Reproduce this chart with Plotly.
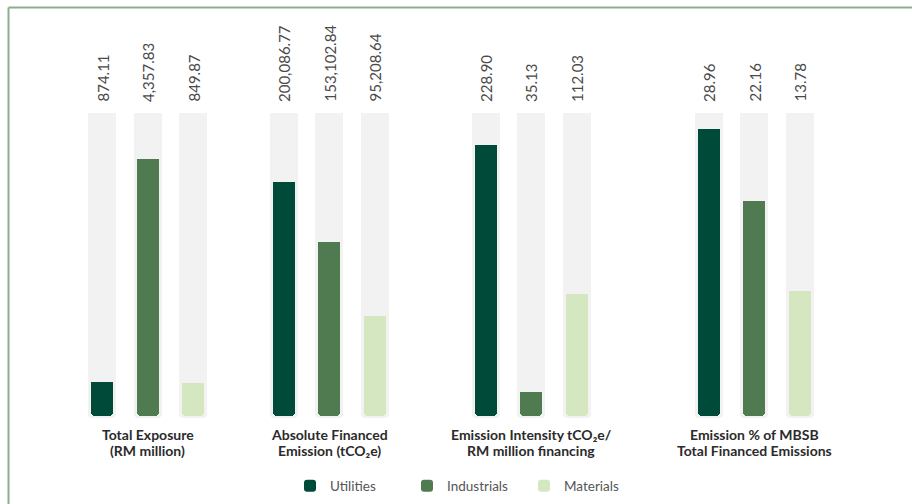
import plotly.graph_objects as go

# ---------------- data ----------------
categories = [
    "Total Exposure<br>(RM million)",
    "Absolute Financed<br>Emission (tCO₂e)",
    "Emission Intensity tCO₂e/<br>RM million financing",
    "Emission % of MBSB<br>Total Financed Emissions",
]
series = ["Utilities", "Industrials", "Materials"]
values_utilities = [874.11, 200086.77, 228.90, 28.96]
values_industrials = [4357.83, 153102.84, 35.13, 22.16]
values_materials = [849.87, 95208.64, 112.03, 13.78]
# drawn fill level of each bar (percent of its track)
fill_utilities = [11.3, 77.3, 89.4, 94.7]
fill_industrials = [84.7, 57.4, 7.8, 71.0]
fill_materials = [10.8, 33.0, 40.3, 41.3]

# ---------------- styling / layout constants ----------------
colors = ["#004a3a", "#507a50", "#d4e7c0"]
track_color = "#f2f2f2"
group_centers = [147.5, 329, 531, 754]
offsets = [-45.5, 0, 45.5]
W, H = 912, 504
px_per_unit = 3.03
top_px = 113  # track top = value 0, bars hang downward (negative values)
y_lo = -(H - top_px) / px_per_unit
y_hi = top_px / px_per_unit


def ypx(p):
    return -(p - top_px) / px_per_unit


values = [values_utilities, values_industrials, values_materials]
fills = [fill_utilities, fill_industrials, fill_materials]

fig = go.Figure()

# background tracks (base subplot, drawn underneath)
track_x = [gc + off for gc in group_centers for off in offsets]
fig.add_trace(go.Bar(
    x=track_x, y=[-100.7] * len(track_x), width=28,
    marker=dict(color=track_color, line=dict(width=0), cornerradius=4),
    showlegend=False, hoverinfo="skip", xaxis="x", yaxis="y",
))

# coloured bars: transparent spacer from the track top, then the coloured part
for si, name in enumerate(series):
    xs = [gc + offsets[si] for gc in group_centers]
    f = fills[si]
    fig.add_trace(go.Bar(
        x=xs, y=[-(100 - v) for v in f], width=22,
        marker=dict(color="rgba(0,0,0,0)", line=dict(width=0)),
        showlegend=False, hoverinfo="skip", xaxis="x", yaxis="y2",
    ))
    fig.add_trace(go.Bar(
        x=xs, y=[-v for v in f], width=22, name=name,
        marker=dict(color=colors[si], line=dict(width=0), cornerradius=4),
        customdata=values[si], xaxis="x", yaxis="y2",
        hovertemplate=name + ": %{customdata:,.2f}<extra></extra>",
    ))
    for gi, v in enumerate(values[si]):
        fig.add_annotation(
            x=xs[gi], y=ypx(104), text=f"{v:,.2f}", textangle=-90,
            xref="x", yref="y",
            xanchor="center", yanchor="bottom", showarrow=False,
            font=dict(family="Lato", size=15, color="#4a4a4a"),
        )

for gi, cat in enumerate(categories):
    for li, line in enumerate(cat.split("<br>")):
        fig.add_annotation(
            x=group_centers[gi], y=ypx(434 + 16 * li), text=f"<b>{line}</b>",
            xref="x", yref="y",
            xanchor="center", yanchor="middle", showarrow=False,
            font=dict(family="Lato", size=14, color="#2b2b2b"),
        )

# frame lines (left and top)
border = "#8fac8f"
fig.add_shape(type="line", xref="paper", yref="paper", x0=8.5 / W, x1=8.5 / W,
              y0=1 - 7.5 / H, y1=0, line=dict(color=border, width=2))
fig.add_shape(type="line", xref="paper", yref="paper", x0=8.5 / W, x1=1,
              y0=1 - 7.5 / H, y1=1 - 7.5 / H, line=dict(color=border, width=2))

fig.update_layout(
    width=W, height=H, autosize=False,
    margin=dict(l=0, r=0, t=0, b=0),
    paper_bgcolor="white", plot_bgcolor="white",
    barmode="relative", bargap=0,
    xaxis=dict(range=[0, W], visible=False, fixedrange=True),
    yaxis=dict(range=[y_lo, y_hi], visible=False, fixedrange=True),
    yaxis2=dict(range=[y_lo, y_hi], visible=False, fixedrange=True,
                overlaying="y"),
    legend=dict(
        orientation="h", x=290 / W, y=1 - 486 / H, xanchor="left", yanchor="middle",
        font=dict(family="Lato", size=13.5, color="#555555"),
        entrywidth=72, entrywidthmode="pixels", bgcolor="rgba(0,0,0,0)",
        itemclick=False, itemdoubleclick=False,
    ),
)

fig.write_html("out.html")
